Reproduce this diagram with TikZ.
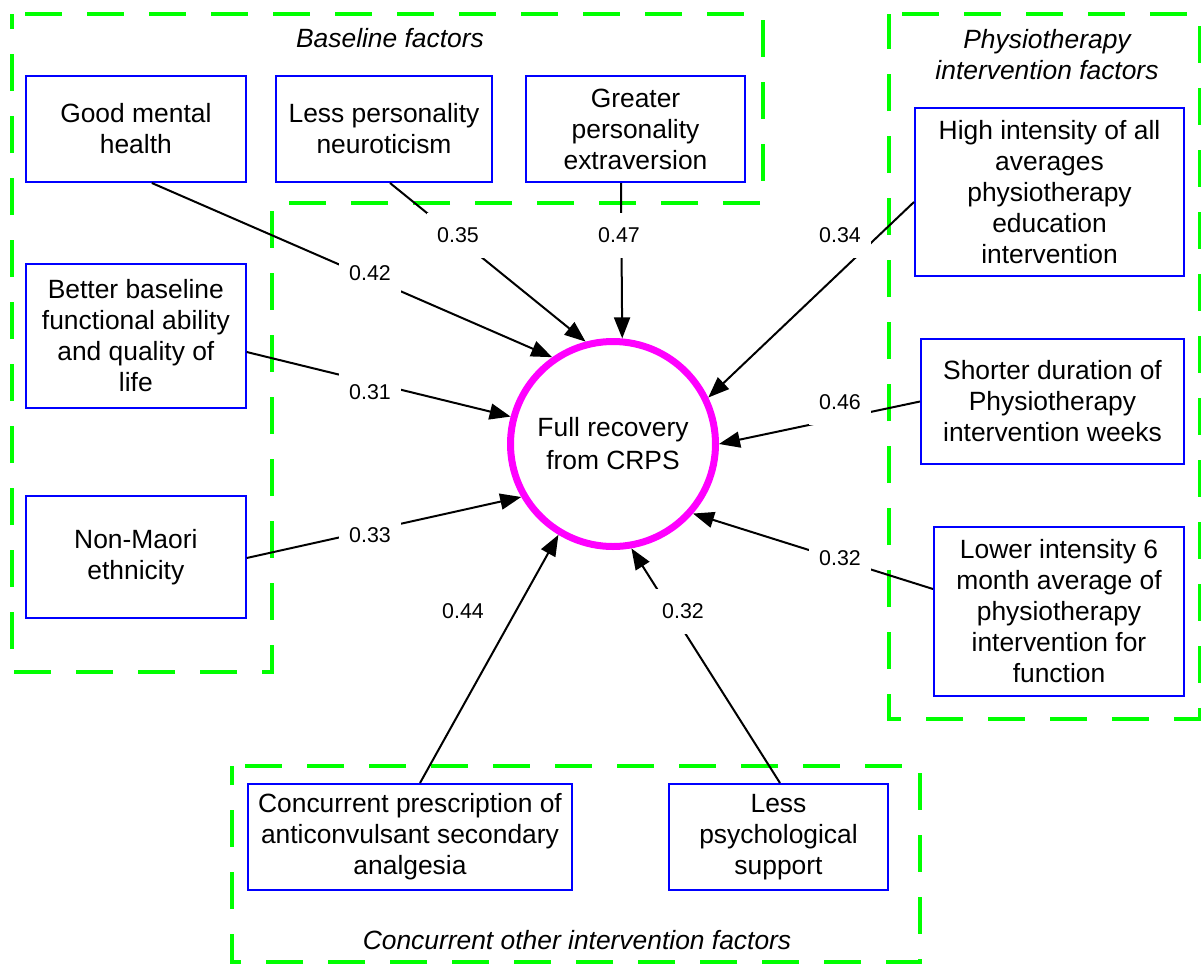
\documentclass[tikz,border=0pt]{standalone}
\usepackage{fontspec}
\setmainfont{Liberation Sans}
\usetikzlibrary{arrows.meta,calc}
\definecolor{grpgreen}{RGB}{0,255,0}
\definecolor{boxblue}{RGB}{0,0,255}
\definecolor{ringmag}{RGB}{255,0,255}
\begin{document}
\begin{tikzpicture}[x=0.5pt,y=-0.5pt,
  box/.style={draw=boxblue, line width=1pt, align=center, inner sep=0pt, font=\fontsize{13.2}{15.5}\selectfont},
  grp/.style={draw=grpgreen, line width=2pt, dash pattern=on 18.5pt off 12.5pt, dash phase=24.5pt},
  lbl/.style={fill=white, minimum width=31pt, minimum height=22.5pt, inner sep=0pt, font=\fontsize{10.7}{12}\selectfont},
  glbl/.style={align=center, font=\fontsize{13.2}{15.5}\selectfont\itshape},
  arr/.style={line width=1pt, -{Triangle[length=10.5pt,width=8pt]}}
]
\useasboundingbox (0,0) rectangle (1201,965);

% groups
\draw[grp] (12,14) -- (763,14) -- (763,203) -- (272,203) -- (272,672) -- (12,672) -- cycle;
\draw[grp] (889,14) -- (1200,14) -- (1200,719) -- (889,719) -- cycle;
\draw[grp] (232,766) -- (920,766) -- (920,962) -- (232,962) -- cycle;

\node[glbl] (tb) at (390,38) {Baseline factors};
\node[glbl] (tp) at (1047,55) {Physiotherapy\\intervention factors};
\node[glbl] (tc) at (577,940) {Concurrent other intervention factors};

% boxes
\node[box, minimum width=109.85pt, minimum height=53pt] (gmh) at (135.85,129) {Good mental\\health};
\node[box, minimum width=108pt, minimum height=53pt] (neuro) at (384,129) {Less personality\\neuroticism};
\node[box, minimum width=109.5pt, minimum height=53pt] (extra) at (635.5,129) {Greater\\personality\\extraversion};
\node[box, minimum width=109.85pt, minimum height=72pt] (better) at (135.85,336) {Better baseline\\functional ability\\and quality of\\life};
\node[box, minimum width=109.85pt, minimum height=61pt] (nonm) at (135.85,557) {Non-Maori\\ethnicity};
\node[box, minimum width=134.5pt, minimum height=84pt] (high) at (1049.5,192) {High intensity of all\\averages\\physiotherapy\\education\\intervention};
\node[box, minimum width=131.5pt, minimum height=62.5pt] (short) at (1052.5,401.5) {Shorter duration of\\Physiotherapy\\intervention weeks};
\node[box, minimum width=125pt, minimum height=84.5pt] (lower) at (1059,611.5) {Lower intensity 6\\month average of\\physiotherapy\\intervention for\\function};
\node[box, minimum width=162pt, minimum height=53pt] (conc) at (410,837) {Concurrent prescription of\\anticonvulsant secondary\\analgesia};
\node[box, minimum width=109.5pt, minimum height=53pt] (psych) at (778.5,837) {Less\\psychological\\support};

% centre
\node[circle, draw=ringmag, line width=3.5pt, minimum size=102.5pt, inner sep=0pt, align=center, font=\fontsize{13.2}{16.5}\selectfont] (c) at (613,444) {Full recovery\\from CRPS};

% edges
\draw[arr] ([xshift=8pt]gmh.south) -- (c.125.4);
\draw[arr] ([xshift=3pt]neuro.south) -- (c.105.4);
\draw[arr] ([xshift=-7.25pt]extra.south) -- (c.85.7);
\draw[arr] ([yshift=-8pt]better.east) -- (c.165.6);
\draw[arr] ([yshift=-0.5pt]nonm.east) -- (c.210.5);
\draw[arr] ([yshift=-5pt]high.west) -- (c.26.3);
\draw[arr] (short.west) -- (c.0.6);
\draw[arr] ([yshift=11.25pt]lower.west) -- (c.-41.1);
\draw[arr] ([xshift=5pt]conc.north) -- (c.239.4);
\draw[arr] ([xshift=0.75pt]psych.north) -- (c.280.7);

% labels
\node[lbl] (l1) at (370,273) {0.42};
\node[lbl] (l2) at (458,235) {0.35};
\node[lbl] (l3) at (619,235) {0.47};
\node[lbl] (l4) at (370,392) {0.31};
\node[lbl] (l5) at (370,535) {0.33};
\node[lbl] (l6) at (840,235) {0.34};
\node[lbl] (l7) at (840,402) {0.46};
\node[lbl] (l8) at (840,558) {0.32};
\node[lbl] (l9) at (463,611) {0.44};
\node[lbl] (l10) at (683,611) {0.32};
\end{tikzpicture}
\end{document}
